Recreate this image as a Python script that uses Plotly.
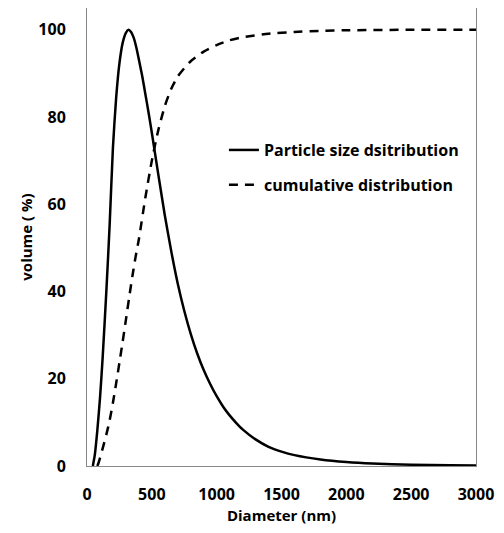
import plotly.graph_objects as go

# Particle size distribution (solid)
psd_x = [45, 50, 60, 80, 100, 120, 150, 175, 200, 225, 250, 275, 300, 320, 340, 360, 380, 400,
         425, 450, 475, 500, 550, 600, 650, 700, 750, 800, 850, 900, 950, 1000, 1050, 1100, 1150,
         1200, 1300, 1400, 1500, 1600, 1800, 2000, 2200, 2500, 2800, 3000]
psd_y = [0, 0.8, 2.5, 8.3, 15.5, 24.5, 40.5, 55.5, 73, 84.5, 92.3, 97, 99.3, 100, 99.5, 98.2, 96, 93.2,
         89.5, 85.3, 81, 76.4, 66.8, 57.5, 49.2, 41.8, 35.6, 30.3, 25.8, 22.0, 18.8, 16.0, 13.6, 11.6, 9.9,
         8.4, 6.1, 4.4, 3.3, 2.5, 1.5, 0.9, 0.55, 0.3, 0.15, 0.1]

# Cumulative distribution (dashed)
cum_x = [80, 90, 100, 125, 150, 175, 200, 225, 250, 275, 300, 325, 350, 375, 400, 450, 500,
         550, 600, 650, 700, 750, 800, 900, 1000, 1100, 1200, 1400, 1600, 1800, 2000, 2500, 3000]
cum_y = [0, 0.8, 1.8, 4.5, 7.3, 10.5, 14.5, 19, 23.7, 28.5, 33.5, 38.6, 43.5, 48, 52, 61.5, 70,
         77, 82.5, 86.5, 89.3, 91.2, 92.8, 95, 96.5, 97.6, 98.3, 99.1, 99.5, 99.75, 99.9, 100, 100]

x_ticks = [0, 500, 1000, 1500, 2000, 2500, 3000]
y_ticks = [0, 20, 40, 60, 80, 100]

FONT = "Open Sans"

fig = go.Figure()
fig.add_trace(go.Scatter(x=psd_x, y=psd_y, mode="lines", name="Particle size dsitribution",
                         legendgroup="a",
                         line=dict(color="black", width=2.5, shape="spline", smoothing=0.6)))
fig.add_trace(go.Scatter(x=cum_x, y=cum_y, mode="lines", name="cumulative distribution",
                         legendgroup="b",
                         line=dict(color="black", width=2.5, dash="9px,7px", shape="spline", smoothing=0.6)))

fig.update_layout(
    width=496, height=525,
    margin=dict(l=79, r=28, t=0, b=67),
    paper_bgcolor="white", plot_bgcolor="white",
    font=dict(family=FONT, size=16, color="black", weight="bold"),
    showlegend=True,
    legend=dict(x=0.352, y=0.727, xanchor="left", yanchor="top", bgcolor="rgba(0,0,0,0)",
                font=dict(family=FONT, size=16, color="black", weight="bold"),
                itemwidth=30, tracegroupgap=11),
)
fig.update_xaxes(range=[0, 3000], tickvals=x_ticks,
                 showgrid=False, zeroline=False, showline=True, linecolor="#888888", linewidth=1,
                 mirror=True, ticks="", ticklen=0, ticklabelstandoff=14,
                 tickfont=dict(family=FONT, size=16, weight="bold"),
                 title=dict(text="Diameter (nm)", font=dict(family=FONT, size=15, weight="bold"), standoff=6))
fig.update_yaxes(range=[0, 105], tickvals=y_ticks,
                 showgrid=False, zeroline=False, showline=True, linecolor="#888888", linewidth=1,
                 mirror=True, ticks="", ticklen=0, ticklabelstandoff=17,
                 tickfont=dict(family=FONT, size=16, weight="bold"),
                 title=dict(text="volume ( %)", font=dict(family=FONT, size=15, weight="bold"), standoff=2))

fig.write_html("out.html")
